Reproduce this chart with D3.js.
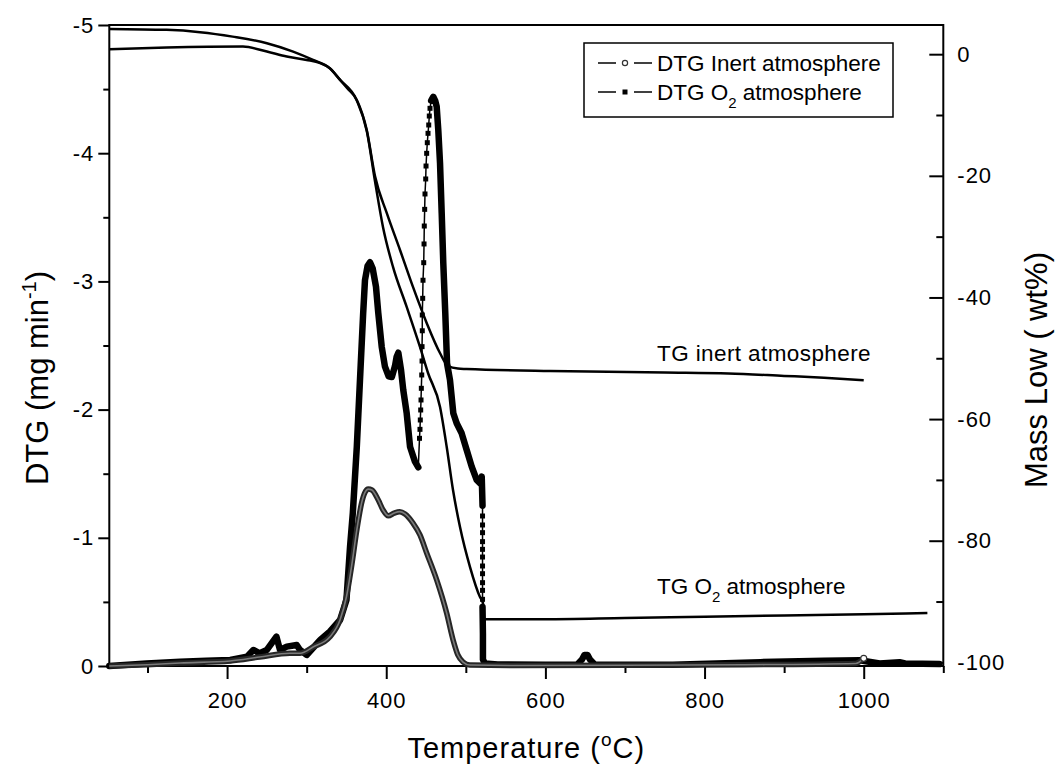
<!DOCTYPE html>
<html>
<head>
<meta charset="utf-8">
<script src="https://cdn.jsdelivr.net/npm/d3@7"></script>
<style>
  body { margin: 0; background: #fff; }
  svg text { font-family: "Liberation Sans", Arial, sans-serif; fill: #000; }
</style>
</head>
<body>
<div id="chart"></div>
<script>
var svgWidth = 1058;
var svgHeight = 774;

// axis ticks
var tempTicks = [200, 400, 600, 800, 1000];
var tempMinor = [100, 300, 500, 700, 900, 1100];
var dtgTicks = [-5, -4, -3, -2, -1, 0];
var dtgMinor = [-4.5, -3.5, -2.5, -1.5, -0.5];
var massTicks = [0, -20, -40, -60, -80, -100];
var massMinor = [-10, -30, -50, -70, -90];

// DTG inert atmosphere [T, mg/min]
var dtgInert = [[52,0],[100,-0.01],[141,-0.023],[204,-0.039],[241,-0.07],[279,-0.1],[292,-0.1],
  [308,-0.148],[329,-0.226],[342,-0.36],[350,-0.54],[357,-0.8],[363,-1.06],[369,-1.27],[373,-1.35],
  [377.5,-1.38],[382,-1.373],[390,-1.295],[396,-1.217],[402.6,-1.172],[410,-1.193],[417,-1.204],
  [423.6,-1.186],[433.6,-1.115],[442.4,-1.022],[450.8,-0.881],[463.4,-0.671],[475.9,-0.413],
  [484,-0.203],[490,-0.086],[496.5,-0.031],[505,-0.008],[560,-0.004],[700,-0.006],[850,-0.01],
  [990,-0.02],[1000,-0.06]];

// DTG O2 atmosphere, split where the recorded points are sparse
var dtgO2A = [[52,0],[99,-0.02],[141,-0.034],[174,-0.041],[204,-0.047],[225,-0.073],[233,-0.125],
  [241,-0.099],[250,-0.125],[262,-0.229],[266.5,-0.125],[275,-0.151],[287.5,-0.164],[291.6,-0.125],
  [300,-0.086],[317,-0.203],[329,-0.268],[342,-0.359],[350,-0.515],[354.5,-0.928],[358,-1.193],
  [363,-1.708],[367,-2.231],[371,-2.751],[373.3,-3.011],[376.5,-3.12],[379.6,-3.15],[383,-3.1],
  [387.1,-2.959],[390,-2.753],[394.3,-2.491],[398.4,-2.335],[403,-2.26],[407,-2.254],[411,-2.34],
  [413.1,-2.413],[415.2,-2.444],[418.6,-2.309],[421.4,-2.153],[425.7,-1.971],[429.9,-1.711],
  [436.1,-1.594],[440.3,-1.55]];
var dtgO2Rise = [[441.8,-1.776],[442.4,-1.846],[442.8,-1.919],[443.3,-1.997],[443.7,-2.075],
  [444.1,-2.166],[444.6,-2.27],[445,-2.379],[445,-2.491],[445.3,-2.615],[445.3,-2.738],[445.8,-2.868],
  [446.2,-3.009],[447.1,-3.146],[447.5,-3.292],[447.8,-3.432],[448.3,-3.562],[448.7,-3.682],
  [449.6,-3.799],[450,-3.9],[450.8,-3.999],[451.6,-4.082],[452.5,-4.155],[453.4,-4.22],[454.1,-4.29],
  [455,-4.35]];
var dtgO2B = [[456.5,-4.41],[459.1,-4.44],[461.5,-4.41],[463.4,-4.363],[465.4,-4.181],[467.6,-3.921],
  [469.7,-3.531],[471.7,-3.141],[474.2,-2.751],[476.4,-2.361],[480.1,-2.231],[484.3,-1.971],
  [488.5,-1.893],[494.8,-1.815],[501.1,-1.685],[507.4,-1.555],[513.7,-1.451],[517.8,-1.425],
  [520,-1.477],[521,-1.25]];
var dtgO2Drop = [[521,-1.17],[521,-1.1],[521,-1.04],[521,-0.97],[521,-0.91],[521,-0.85],[521,-0.78],
  [521,-0.72],[521,-0.65],[521,-0.59],[521,-0.52]];
var dtgO2C = [[521,-0.46],[521.5,-0.25],[521.5,-0.05],[524,-0.02],[540,-0.012],[600,-0.01],[640,-0.012],
  [646,-0.05],[649,-0.085],[653,-0.085],[656,-0.05],[662,-0.012],[760,-0.01],[870,-0.03],[950,-0.04],
  [995,-0.045],[1020,-0.02],[1045,-0.03],[1052,-0.02],[1095,-0.015]];

// TG curves [T, wt%]
var tgInert = [[52,4.16],[124,4.0],[166,3.62],[207,2.89],[250,1.81],[283,0.43],[308,-0.94],[329,-2.3],
  [342,-4.23],[351,-5.6],[363,-7.52],[375.5,-12.45],[386,-20.13],[400.6,-26.1],[417.3,-32.19],
  [433.6,-38.27],[450.8,-44.19],[467.5,-49.13],[477.6,-51.27],[490,-51.7],[501,-51.76],[606,-52.1],
  [750,-52.35],[830,-52.5],[900,-52.9],[950,-53.2],[1000,-53.6]];
var tgO2 = [[52,0.82],[124,1.09],[220,1.25],[250,0.43],[275,-0.39],[300,-0.94],[317,-1.48],[329,-2.3],
  [342,-4.23],[363,-7.6],[375.5,-12.6],[386,-21.0],[395.9,-28.4],[408.5,-34.98],[425.7,-41.56],
  [442.4,-48.14],[452.5,-52.42],[467.6,-58.01],[476,-64.59],[483.9,-71.66],[492.7,-77.75],
  [505.3,-84.33],[517.8,-89.26],[521.6,-90.25],[522,-92.9],[600,-92.9],[700,-92.7],[800,-92.5],
  [900,-92.3],[1000,-92.1],[1080,-91.9]];

var plot = { left: 109.3, right: 943.3, top: 25, bottom: 666 };

var svg = d3.select("#chart")
  .append("svg")
  .attr("width", svgWidth)
  .attr("height", svgHeight);

var xScale = d3.scaleLinear().domain([52, 1100]).range([plot.left, plot.right]);
var yLeft = d3.scaleLinear().domain([0, -5]).range([plot.bottom, plot.top]);
var yRight = d3.scaleLinear().domain([-100.6, 4.8]).range([plot.bottom, plot.top]);

var fmt = function(d) { return String(d); };

// bottom axis
svg.append("g")
  .attr("transform", `translate(0, ${plot.bottom})`)
  .call(d3.axisBottom(xScale).tickValues(tempTicks).tickSize(13).tickSizeOuter(0).tickPadding(13).tickFormat(fmt));
svg.append("g")
  .attr("transform", `translate(0, ${plot.bottom})`)
  .call(d3.axisBottom(xScale).tickValues(tempMinor).tickSize(7).tickSizeOuter(0).tickFormat(""));

// left axis
svg.append("g")
  .attr("transform", `translate(${plot.left}, 0)`)
  .call(d3.axisLeft(yLeft).tickValues(dtgTicks).tickSize(11).tickSizeOuter(0).tickPadding(4).tickFormat(fmt));
svg.append("g")
  .attr("transform", `translate(${plot.left}, 0)`)
  .call(d3.axisLeft(yLeft).tickValues(dtgMinor).tickSize(6).tickSizeOuter(0).tickFormat(""));

// right axis, ticks pointing inward
svg.append("g")
  .attr("transform", `translate(${plot.right}, 0)`)
  .call(d3.axisRight(yRight).tickValues(massTicks).tickSizeInner(-14).tickSizeOuter(0).tickPadding(14).tickFormat(fmt));
svg.append("g")
  .attr("transform", `translate(${plot.right}, 0)`)
  .call(d3.axisRight(yRight).tickValues(massMinor).tickSizeInner(-7).tickSizeOuter(0).tickFormat(""));

svg.selectAll(".domain").remove();
svg.selectAll(".tick line").attr("stroke", "#000").attr("stroke-width", 2);
svg.selectAll(".tick text")
  .style("font-size", "22px")
  .style("letter-spacing", "1px")
  .attr("fill", "#000");

// frame
svg.append("rect")
  .attr("x", plot.left).attr("y", plot.top)
  .attr("width", plot.right - plot.left).attr("height", plot.bottom - plot.top)
  .attr("fill", "none").attr("stroke", "#000").attr("stroke-width", 2);

var tgLine = d3.line()
  .x(d => xScale(d[0]))
  .y(d => yRight(d[1]))
  .curve(d3.curveMonotoneX);

var dtgLine = d3.line()
  .x(d => xScale(d[0]))
  .y(d => yLeft(d[1]));

// TG curves
[tgInert, tgO2].forEach(function(data) {
  svg.append("path")
    .datum(data)
    .attr("d", tgLine)
    .attr("fill", "none")
    .attr("stroke", "#000")
    .attr("stroke-width", 2.5);
});

// DTG O2: thin line through every point, thick where points are dense, squares where sparse
var dtgO2All = dtgO2A.concat(dtgO2Rise, dtgO2B, dtgO2Drop, dtgO2C);
svg.append("path")
  .datum(dtgO2All)
  .attr("d", dtgLine)
  .attr("fill", "none")
  .attr("stroke", "#000")
  .attr("stroke-width", 1.5);

[dtgO2A, dtgO2B, dtgO2C].forEach(function(data) {
  svg.append("path")
    .datum(data)
    .attr("d", dtgLine)
    .attr("fill", "none")
    .attr("stroke", "#000")
    .attr("stroke-width", 6.5)
    .attr("stroke-linejoin", "round")
    .attr("stroke-linecap", "round");
});

svg.selectAll(".sq")
  .data(dtgO2Rise.concat(dtgO2Drop))
  .enter()
  .append("rect")
  .attr("class", "sq")
  .attr("x", d => xScale(d[0]) - 2.5)
  .attr("y", d => yLeft(d[1]) - 2.5)
  .attr("width", 5)
  .attr("height", 5)
  .attr("fill", "#000");

// DTG inert: chain of hollow circles
var inertLine = d3.line()
  .x(d => xScale(d[0]))
  .y(d => yLeft(d[1]))
  .curve(d3.curveMonotoneX);

svg.append("path")
  .datum(dtgInert)
  .attr("d", inertLine)
  .attr("fill", "none")
  .attr("stroke", "#262626")
  .attr("stroke-width", 5.5)
  .attr("stroke-linejoin", "round");
svg.append("path")
  .datum(dtgInert)
  .attr("d", inertLine)
  .attr("fill", "none")
  .attr("stroke", "#7a7a7a")
  .attr("stroke-width", 1.6);

var lastInert = dtgInert[dtgInert.length - 1];
svg.append("circle")
  .attr("cx", xScale(lastInert[0]))
  .attr("cy", yLeft(lastInert[1]))
  .attr("r", 3)
  .attr("fill", "#fff")
  .attr("stroke", "#333")
  .attr("stroke-width", 1.2);

// legend
var legend = svg.append("g");
legend.append("rect")
  .attr("x", 584).attr("y", 43).attr("width", 309).attr("height", 74)
  .attr("fill", "#fff").attr("stroke", "#000").attr("stroke-width", 1.5);

var rows = [{ y: 63, kind: "circle" }, { y: 92, kind: "square" }];
rows.forEach(function(r) {
  legend.append("line").attr("x1", 598).attr("x2", 616).attr("y1", r.y).attr("y2", r.y)
    .attr("stroke", "#000").attr("stroke-width", 1.5);
  legend.append("line").attr("x1", 634).attr("x2", 652).attr("y1", r.y).attr("y2", r.y)
    .attr("stroke", "#000").attr("stroke-width", 1.5);
  if (r.kind === "circle") {
    legend.append("circle").attr("cx", 625).attr("cy", r.y).attr("r", 2.6)
      .attr("fill", "#fff").attr("stroke", "#333").attr("stroke-width", 1.2);
  } else {
    legend.append("rect").attr("x", 622.5).attr("y", r.y - 2.5).attr("width", 5).attr("height", 5)
      .attr("fill", "#000");
  }
});

legend.append("text").attr("x", 657).attr("y", 71).style("font-size", "22.5px")
  .text("DTG Inert atmosphere");
var lt2 = legend.append("text").attr("x", 657).attr("y", 100).style("font-size", "22.5px");
lt2.append("tspan").text("DTG O");
lt2.append("tspan").attr("dy", 8).style("font-size", "15px").text("2");
lt2.append("tspan").attr("dy", -8).text(" atmosphere");

// curve annotations
svg.append("text").attr("x", 657).attr("y", 361).style("font-size", "22.5px")
  .style("letter-spacing", "0.4px")
  .text("TG inert atmosphere");
var ann = svg.append("text").attr("x", 657).attr("y", 594).style("font-size", "22.5px");
ann.append("tspan").text("TG O");
ann.append("tspan").attr("dy", 8).style("font-size", "15px").text("2");
ann.append("tspan").attr("dy", -8).text(" atmosphere");

// axis titles
var xt = svg.append("text")
  .attr("x", (plot.left + plot.right) / 2)
  .attr("y", 758)
  .attr("text-anchor", "middle")
  .style("font-size", "29px")
  .style("letter-spacing", "1px");
xt.append("tspan").text("Temperature (");
xt.append("tspan").attr("dy", -12).style("font-size", "19px").text("o");
xt.append("tspan").attr("dy", 12).text("C)");

var ylt = svg.append("text")
  .attr("transform", "translate(48, 378) rotate(-90)")
  .attr("text-anchor", "middle")
  .style("font-size", "31px");
ylt.append("tspan").text("DTG (mg min");
ylt.append("tspan").attr("dy", -12).style("font-size", "20px").text("-1");
ylt.append("tspan").attr("dy", 12).text(")");

svg.append("text")
  .attr("transform", "translate(1047, 370) rotate(-90)")
  .attr("text-anchor", "middle")
  .style("font-size", "31px")
  .text("Mass Low ( wt%)");
</script>
</body>
</html>
